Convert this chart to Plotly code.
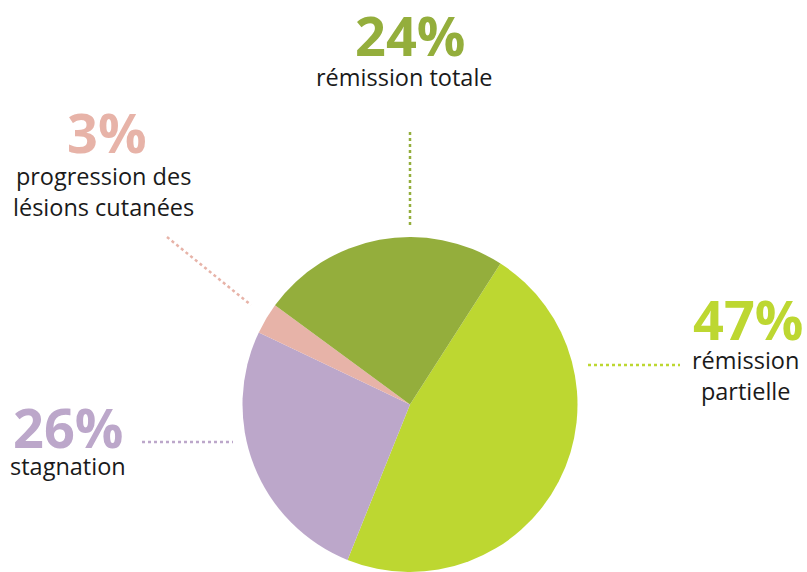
import plotly.graph_objects as go

labels = ["rémission partielle", "stagnation", "progression des lésions cutanées", "rémission totale"]
values = [47, 26, 3, 24]
colors = ["#bdd731", "#bca7ca", "#e7b3a8", "#94ae3c"]
pct_labels = ["47%", "26%", "3%", "24%"]
text_labels = ["rémission<br>partielle", "stagnation", "progression des<br>lésions cutanées", "rémission totale"]

W, H = 807, 572

fig = go.Figure(go.Pie(
    labels=labels, values=values, sort=False, direction="clockwise",
    rotation=32.7, marker=dict(colors=colors, line=dict(width=0)),
    textinfo="none", hoverinfo="label+percent", showlegend=False,
    domain=dict(x=[242.5 / W, 577.5 / W], y=[0, 335 / H]),
))

# annotation positions in pixels (x center, y center from top)
pct_pos = [(748, 319), (68, 427), (107, 132), (410, 35)]
lab_pos = [(745, 376), (68, 466), (104, 191), (404, 77)]
font_fam = "Open Sans, Noto Sans, sans-serif"

for i in range(4):
    px, py = pct_pos[i]
    fig.add_annotation(x=px / W, y=1 - py / H, xref="paper", yref="paper",
                       text="<b>" + pct_labels[i] + "</b>", showarrow=False,
                       font=dict(family=font_fam, size=54, color=colors[i]),
                       xanchor="center", yanchor="middle", borderpad=0)
    lx, ly = lab_pos[i]
    fig.add_annotation(x=lx / W, y=1 - ly / H, xref="paper", yref="paper",
                       text=text_labels[i], showarrow=False,
                       font=dict(family=font_fam, size=23.5, color="#1a1a1a"),
                       xanchor="center", yanchor="middle", align="center", borderpad=0)

lines = [((588, 365), (680, 365)), ((142, 442), (233, 442)),
         ((167, 237), (251, 305)), ((410, 132), (410, 225))]
for i, ((x0, y0), (x1, y1)) in enumerate(lines):
    fig.add_shape(type="line", xref="paper", yref="paper",
                  x0=x0 / W, y0=1 - y0 / H, x1=x1 / W, y1=1 - y1 / H,
                  line=dict(color=colors[i], width=2.5, dash="dot"))

fig.update_layout(width=W, height=H, margin=dict(l=0, r=0, t=0, b=0),
                  paper_bgcolor="white", plot_bgcolor="white")

fig.write_html("out.html")
